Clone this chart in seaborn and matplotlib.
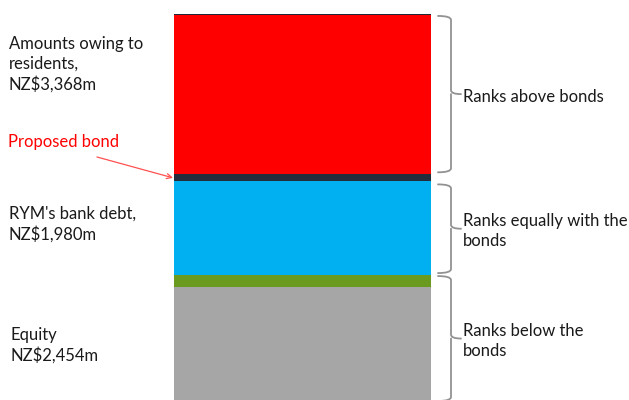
import numpy as np
import matplotlib
matplotlib.use("Agg")
import matplotlib.pyplot as plt
from matplotlib.path import Path
from matplotlib.patches import PathPatch
import seaborn as sns

# Capital structure, NZ$m, stacked from the bottom up
segments = ["Equity", "Subordinated", "RYM's bank debt", "Proposed bond",
            "Amounts owing to residents", "Other"]
values = [2454, 250, 1980, 150, 3368, 20]
colors = ["#A6A6A6", "#6B9B1E", "#00B0F0", "#242D3B", "#FF0000", "#1F2A36"]

# Ranking groups: (first segment index, last segment index, label)
groups = [(4, 4, "Ranks above bonds"),
          (2, 2, "Ranks equally with the\nbonds"),
          (0, 1, "Ranks below the\nbonds")]

left_labels = ["Amounts owing to\nresidents,\nNZ$3,368m",
               "RYM's bank debt,\nNZ$1,980m",
               "Equity\nNZ$2,454m"]

W, H = 629, 400
sns.set_theme(style="white")
plt.rcParams["font.family"] = ["Lato", "DejaVu Sans"]

fig = plt.figure(figsize=(W / 100, H / 100), dpi=100)
ax = fig.add_axes([0, 0, 1, 1])

bottoms = np.concatenate([[0], np.cumsum(values)[:-1]])
for name, val, bot, col in zip(segments, values, bottoms, colors):
    sns.barplot(x=[0], y=[val], bottom=bot, width=1.0, color=col,
                saturation=1, errorbar=None, ax=ax, linewidth=0)

total = sum(values)
# axis scaling so the column spans its place in the frame
px_x = 1.0 / 257.0              # data units per pixel horizontally
x0 = -0.5 - 174 * px_x
ax.set_xlim(x0, x0 + W * px_x)
px_y = total / 389.0            # data units per pixel vertically
ylo = 3 * px_y                  # base of the column sits just below the frame
ax.set_ylim(ylo, ylo + H * px_y)
ax.set_axis_off()


def X(px):
    return x0 + px * px_x


def Y(py):
    return ylo + (H - py) * px_y


def brace(y_top, y_bot, xa=438, xb=451, xt=461, r=4):
    """Curly brace in data coords; y_top > y_bot (data), x in pixels."""
    ym = (y_top + y_bot) / 2
    ry = r * px_y
    verts = [
        (X(xa), y_top), (X(xb), y_top), (X(xb), y_top - ry),
        (X(xb), ym + ry),
        (X(xb), ym), (X(xt), ym),
        (X(xb), ym), (X(xb), ym - ry),
        (X(xb), y_bot + ry),
        (X(xb), y_bot), (X(xa), y_bot),
    ]
    codes = [Path.MOVETO, Path.CURVE3, Path.CURVE3,
             Path.LINETO,
             Path.CURVE3, Path.CURVE3,
             Path.MOVETO, Path.CURVE3,
             Path.LINETO,
             Path.CURVE3, Path.CURVE3]
    ax.add_patch(PathPatch(Path(verts, codes), facecolor="none",
                           edgecolor="#929292", lw=1.3, capstyle="round"))
    return ym


fs = 12
tops = np.cumsum(values)
for (i0, i1, label) in groups:
    yt = tops[i1] - 1 * px_y
    yb = bottoms[i0] + 2 * px_y
    if i0 == 2:
        yt -= 2 * px_y
    ym = brace(yt, yb)
    ax.text(X(463), ym - 2.5 * px_y, label, fontsize=fs, color="#1A1A1A",
            ha="left", va="center", linespacing=1.3)

# Left-hand descriptions
fig.text(9 / W, 1 - 64 / H, left_labels[0], fontsize=fs, color="#1A1A1A",
         ha="left", va="center", linespacing=1.3)
fig.text(9 / W, 1 - 224 / H, left_labels[1], fontsize=fs, color="#1A1A1A",
         ha="left", va="center", linespacing=1.3)
fig.text(11 / W, 1 - 345.5 / H, left_labels[2], fontsize=fs, color="#1A1A1A",
         ha="left", va="center", linespacing=1.3)

# Pointer to the thin proposed-bond slice
bond_mid = bottoms[3] + values[3] / 2
ax.text(X(8), Y(141.5), "Proposed bond", fontsize=fs, color="#FF0000",
        ha="left", va="center")
ax.annotate("", xy=(X(173), bond_mid), xytext=(X(97), Y(157)),
            arrowprops=dict(arrowstyle="->", color="#FF5050", lw=0.9,
                            shrinkA=0, shrinkB=0, mutation_scale=9))

fig.savefig("out.png", dpi=100, facecolor="white")
